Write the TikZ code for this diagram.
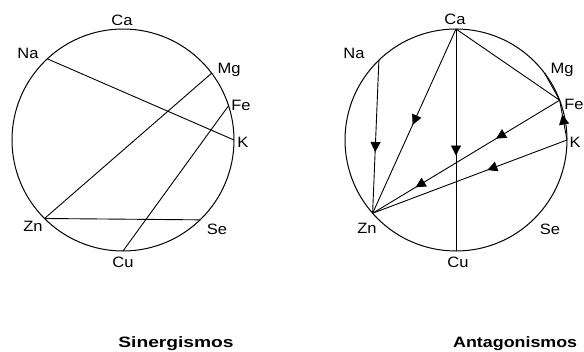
\documentclass[tikz,border=0pt]{standalone}
\usepackage{fontspec}
\usepackage{graphicx}
\setmainfont{Liberation Sans}
\usetikzlibrary{arrows.meta,decorations.markings}
\newcommand\wlbl[1]{\scalebox{1.1}[1]{#1}}
\newcommand\wttl[1]{\scalebox{1.28}[1]{#1}}
\newcommand\wttlb[1]{\scalebox{1.19}[1]{#1}}
\tikzset{
  circ/.style={line width=1pt},
  chord/.style={line width=0.9pt},
  lbl/.style={font=\fontsize{15}{15}\selectfont, inner sep=0pt},
  ttl/.style={font=\bfseries\fontsize{15}{15}\selectfont, inner sep=0pt},
  tri/.tip={Triangle[length=10pt,width=10pt]},
  arrat/.style={postaction={decorate}, decoration={markings,
      mark=at position #1 with {\arrow{tri}}}},
  arrtwo/.style 2 args={postaction={decorate}, decoration={markings,
      mark=at position #1 with {\arrow{tri}},
      mark=at position #2 with {\arrow{tri}}}},
}
\begin{document}
\begin{tikzpicture}[x=1pt,y=1pt]
\useasboundingbox (0,-351) rectangle (584,0);
% ---------------- left: Sinergismos
\begin{scope}[shift={(123,-140)}]
  \node[circ, draw, circle, minimum size=222pt, inner sep=0pt] (cl) at (0,0) {};
  \coordinate (lCa) at (90:111);
  \coordinate (lNa) at (133:111);
  \coordinate (lMg) at (37:111);
  \coordinate (lFe) at (18:111);
  \coordinate (lK)  at (0:111);
  \coordinate (lZn) at (-135:111);
  \coordinate (lSe) at (-46:111);
  \coordinate (lCu) at (-90:111);
  \draw[chord] (lNa) -- (lK);
  \draw[chord] (lMg) -- (lZn);
  \draw[chord] (lFe) -- (lCu);
  \draw[chord] (lZn) -- (lSe);
  \node[lbl] (tlCa) at (-1,120) {\wlbl{Ca}};
  \node[lbl] (tlNa) at (-95,87) {\wlbl{Na}};
  \node[lbl] (tlMg) at (106,70) {\wlbl{Mg}};
  \node[lbl] (tlFe) at (118,35) {\wlbl{Fe}};
  \node[lbl] (tlK)  at (120,-2) {\wlbl{K}};
  \node[lbl] (tlZn) at (-90,-86) {\wlbl{Zn}};
  \node[lbl] (tlSe) at (94,-89) {\wlbl{Se}};
  \node[lbl] (tlCu) at (0,-122) {\wlbl{Cu}};
\end{scope}
% ---------------- right: Antagonismos
\begin{scope}[shift={(456,-140)}]
  \node[circ, draw, circle, minimum size=222pt, inner sep=0pt] (cr) at (0,0) {};
  \coordinate (rCa) at (90:111);
  \coordinate (rNa) at (134:111);
  \coordinate (rMg) at (37:111);
  \coordinate (rFe) at (21:111);
  \coordinate (rK)  at (0:111);
  \coordinate (rZn) at (-138.7:111);
  \coordinate (rCu) at (-90:111);
  \draw[chord, arrat=0.52] (rCa) -- (rZn);
  \draw[chord, arrat=0.6] (rNa) -- (rZn);
  \draw[chord, arrat=0.57] (rCa) -- (rCu);
  \draw[chord] (rCa) -- (rFe);
  \draw[chord] (rMg) -- (rFe);
  \draw[chord, arrat=0.64] (rK) -- (rFe);
  \draw[chord, arrtwo={0.34}{0.77}] (rFe) -- (rZn);
  \draw[chord, arrat=0.41] (rK) -- (rZn);
  \node[lbl] (trCa) at (-1,121) {\wlbl{Ca}};
  \node[lbl] (trNa) at (-102,87) {\wlbl{Na}};
  \node[lbl] (trMg) at (106,70) {\wlbl{Mg}};
  \node[lbl] (trFe) at (118,36) {\wlbl{Fe}};
  \node[lbl] (trK)  at (119,-2) {\wlbl{K}};
  \node[lbl] (trZn) at (-89,-88) {\wlbl{Zn}};
  \node[lbl] (trSe) at (94,-89) {\wlbl{Se}};
  \node[lbl] (trCu) at (2,-122) {\wlbl{Cu}};
\end{scope}
\node[ttl, anchor=base] (t1) at (176,-347) {\wttl{Sinergismos}};
\node[ttl, anchor=base west] (t2) at (453,-347) {\wttlb{Antagonismos}};
\end{tikzpicture}
\end{document}
